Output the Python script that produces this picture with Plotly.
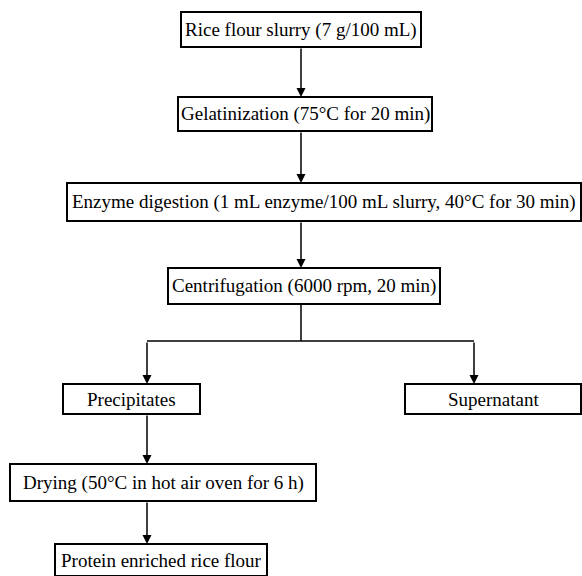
import plotly.graph_objects as go

W, H = 582, 576

labels = [
    "Rice flour slurry (7 g/100 mL)",
    "Gelatinization (75°C for 20 min)",
    "Enzyme digestion (1 mL enzyme/100 mL slurry, 40°C for 30 min)",
    "Centrifugation (6000 rpm, 20 min)",
    "Precipitates",
    "Supernatant",
    "Drying (50°C in hot air oven for 6 h)",
    "Protein enriched rice flour",
]
box_x0 = [181, 178, 67, 168, 63, 405, 10, 55]
box_x1 = [421, 432, 581, 440, 200, 581, 316, 267]
box_y0 = [12, 97, 183, 268, 384, 384, 464, 544]
box_y1 = [47, 131, 221, 304, 414, 414, 501, 576]

# arrows: (x, y_start, y_end)
arrow_x = [301, 301, 301, 147, 474, 147, 147]
arrow_y0 = [47, 131, 221, 341, 341, 414, 501]
arrow_y1 = [97, 183, 268, 384, 384, 464, 544]

FONT = "'Liberation Serif', 'Times New Roman', Times, serif"

fig = go.Figure()
fig.add_trace(go.Scatter(x=[0, W], y=[0, H], mode="markers",
                         marker=dict(opacity=0), hoverinfo="skip", showlegend=False))

shapes = []
for x0, x1, y0, y1 in zip(box_x0, box_x1, box_y0, box_y1):
    shapes.append(dict(type="rect", xref="x", yref="y", x0=x0, x1=x1, y0=y0, y1=y1,
                       line=dict(color="black", width=2), fillcolor="white", layer="above"))
shapes.append(dict(type="line", xref="x", yref="y", x0=301, x1=301, y0=304, y1=341,
                   line=dict(color="black", width=1.5)))
shapes.append(dict(type="line", xref="x", yref="y", x0=147, x1=474, y0=341, y1=341,
                   line=dict(color="black", width=1.5)))

annotations = []
for lab, x0, x1, y0, y1 in zip(labels, box_x0, box_x1, box_y0, box_y1):
    annotations.append(dict(x=(x0 + x1) / 2, y=(y0 + y1) / 2, xref="x", yref="y",
                            text=lab, showarrow=False,
                            font=dict(family=FONT, size=19, color="black")))
for x, ya, yb in zip(arrow_x, arrow_y0, arrow_y1):
    annotations.append(dict(x=x, y=yb, ax=x, ay=ya, xref="x", yref="y", axref="x", ayref="y",
                            text="", showarrow=True, arrowhead=2, arrowsize=1.2,
                            arrowwidth=1.5, arrowcolor="black", standoff=0, startstandoff=0))

fig.update_layout(
    width=W, height=H,
    margin=dict(l=0, r=0, t=0, b=0),
    paper_bgcolor="white", plot_bgcolor="white",
    font=dict(family=FONT),
    xaxis=dict(range=[0, W], visible=False, fixedrange=True),
    yaxis=dict(range=[H, 0], visible=False, fixedrange=True),
    shapes=shapes, annotations=annotations, showlegend=False,
)
fig.write_html("out.html", post_script="document.body.style.margin='0';",
               config={"displayModeBar": False})
